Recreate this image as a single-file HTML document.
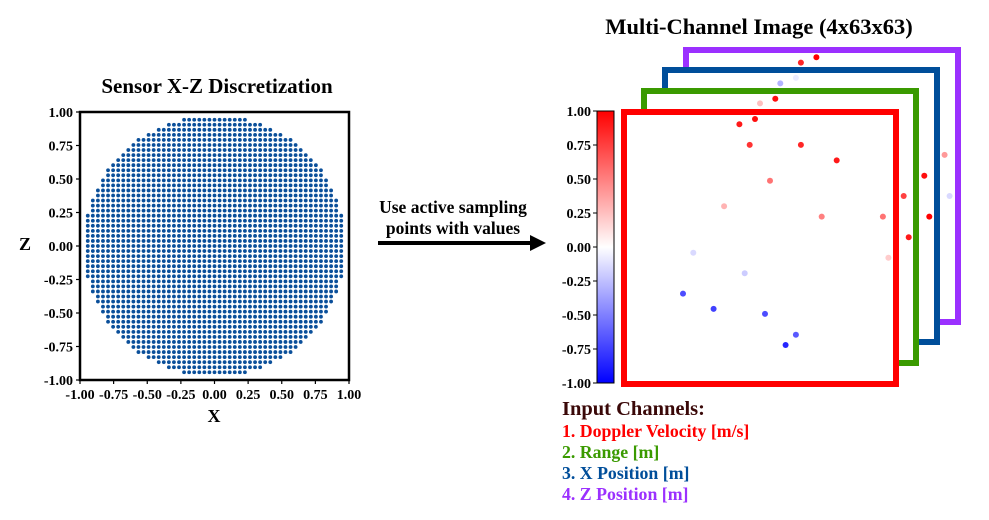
<!DOCTYPE html>
<html><head><meta charset="utf-8"><style>
body{margin:0;background:#fff;}
svg{display:block;font-family:"Liberation Serif",serif;font-weight:bold;}
</style></head><body>
<svg id="s" width="989" height="520" viewBox="0 0 989 520">
<g id="left"></g>
<g id="mid">
<text x="453" y="213" font-size="17.5" text-anchor="middle">Use active sampling</text>
<text x="453" y="234" font-size="17.5" text-anchor="middle">points with values</text>
<line x1="378" y1="243" x2="532" y2="243" stroke="#000" stroke-width="4"/>
<polygon points="530,235 546,243 530,251" fill="#000"/>
</g>
<g id="right"></g>
<g>
<text x="562" y="415" font-size="20.5" fill="#3a0808">Input Channels:</text>
<text x="562" y="437" font-size="17.8" fill="#ff0000">1. Doppler Velocity [m/s]</text>
<text x="562" y="458" font-size="17.8" fill="#3a9a00">2. Range [m]</text>
<text x="562" y="479" font-size="17.8" fill="#004e9a">3. X Position [m]</text>
<text x="562" y="500" font-size="17.8" fill="#9b30ff">4. Z Position [m]</text>
</g>
</svg>
<script>
const NS="http://www.w3.org/2000/svg";
const tickVals=[-1,-0.75,-0.5,-0.25,0,0.25,0.5,0.75,1];
const tickLabels=["-1.00","-0.75","-0.50","-0.25","0.00","0.25","0.50","0.75","1.00"];
const gridHalfCount=[26];
const gridRadius=[0.975];
// sample points: u,v normalized to front frame, and value
const ptU=[0.703,0.647,0.573,0.629,0.500,0.555,0.426,0.482,0.463,0.647,0.776,0.536,0.371,0.722,0.942,1.017,1.091,1.109,1.035,1.164,1.182,0.962,0.260,0.445,0.223,0.333,0.518,0.629,0.592];
const ptV=[-0.186,-0.167,-0.092,-0.112,-0.020,-0.037,0.055,0.036,0.129,0.129,0.185,0.258,0.350,0.387,0.387,0.313,0.240,0.387,0.461,0.165,0.313,0.535,0.517,0.591,0.664,0.719,0.737,0.812,0.849];
const ptVal=[1.0,0.85,-0.3,-0.08,0.25,0.95,0.9,0.95,0.8,0.85,0.9,0.55,0.3,0.5,0.55,0.75,0.95,1.0,0.9,0.4,-0.15,0.2,-0.15,-0.2,-0.7,-0.75,-0.7,-0.65,-0.85];
const cbTicks=[1,0.75,0.5,0.25,0,-0.25,-0.5,-0.75,-1];
const cbLabels=["1.00","0.75","0.50","0.25","0.00","-0.25","-0.50","-0.75","-1.00"];

function mk(tag,attrs,parent,name,inter){const e=document.createElementNS(NS,tag);for(const k in attrs)e.setAttribute(k,attrs[k]);parent.appendChild(e);


return e;}
function txt(x,y,s,size,anchor,parent,name){const t=mk('text',{x:x,y:y,'font-size':size,'text-anchor':anchor},parent,name,false);t.textContent=s;return t;}

// LEFT
const L=document.getElementById('left');
const x0=80,x1=349,y0=112,y1=380;
const sx=v=>x0+(v+1)/2*(x1-x0), sy=v=>y1-(v+1)/2*(y1-y0);
txt(217,93,"Sensor X-Z Discretization",21,"middle",L,"left-title");
const dots=mk('g',{fill:"#0a4f9a"},L,"sensor-points",false);
const n=gridHalfCount[0],step=1/n*0.98;
for(let i=-n;i<=n;i++)for(let j=-n;j<=n;j++){const a=i*step,b=j*step;if(a*a+b*b<=gridRadius[0]*gridRadius[0]){
 mk('circle',{cx:sx(a).toFixed(2),cy:sy(b).toFixed(2),r:1.9},dots,"sensor-point",false);}}
mk('rect',{x:x0,y:y0,width:x1-x0,height:y1-y0,fill:"none",stroke:"#000","stroke-width":2.5},L,"plot-frame",false);
tickVals.forEach((v,k)=>{
 mk('line',{x1:sx(v),y1:y1,x2:sx(v),y2:y1+4,stroke:"#000","stroke-width":1.2},L,"x-tick",false);
 txt(sx(v),y1+19,tickLabels[k],14,"middle",L,"x-tick-label");
 mk('line',{x1:x0-4,y1:sy(v),x2:x0,y2:sy(v),stroke:"#000","stroke-width":1.2},L,"y-tick",false);
 txt(x0-7,sy(v)+5,tickLabels[k],14,"end",L,"y-tick-label");
});
txt(214,422,"X",18,"middle",L,"x-axis-title");
txt(25,250,"Z",18,"middle",L,"y-axis-title");

// RIGHT
const R=document.getElementById('right');
txt(759,34,"Multi-Channel Image (4x63x63)",22.5,"middle",R,"right-title");
const frames=[["#9b30ff",683,47,"frame-z-position"],["#004e9a",662,67,"frame-x-position"],["#3a9a00",641,88,"frame-range"],["#ff0000",621,109,"frame-doppler"]];
const FS=278,BW=6;
frames.forEach(f=>mk('rect',{x:f[1]+BW/2,y:f[2]+BW/2,width:FS-BW,height:FS-BW,fill:"#fff",stroke:f[0],"stroke-width":BW},R,f[3],false));
const pu=u=>621+u*FS, pv=v=>109+v*FS;
function bwr(v){let r,g,b;if(v<0){r=g=Math.round((1+v)*255);b=255;}else{r=255;g=b=Math.round((1-v)*255);}return `rgb(${r},${g},${b})`;}
const pts=mk('g',{},R,"sample-points",false);
ptU.forEach((u,i)=>mk('circle',{cx:pu(u).toFixed(1),cy:pv(ptV[i]).toFixed(1),r:3,fill:bwr(ptVal[i])},pts,"sample-point",false));
// colorbar
const defs=mk('defs',{},R,"defs",false);
const lg=mk('linearGradient',{id:"cbg",x1:0,y1:0,x2:0,y2:1},defs,"colorbar-gradient",false);
[[0,"#ff0000"],[0.5,"#ffffff"],[1,"#0000ff"]].forEach(s=>mk('stop',{offset:s[0],'stop-color':s[1]},lg,"gradient-stop",false));
const cx0=597,cx1=614,cy0=111,cy1=383;
mk('rect',{x:cx0,y:cy0,width:cx1-cx0,height:cy1-cy0,fill:"url(#cbg)",stroke:"#000","stroke-width":1},R,"colorbar",false);
const cy=v=>cy0+(1-v)/2*(cy1-cy0);
cbTicks.forEach((v,k)=>{
 mk('line',{x1:cx0-4,y1:cy(v),x2:cx0,y2:cy(v),stroke:"#000","stroke-width":1},R,"colorbar-tick",false);
 txt(cx0-6,cy(v)+5,cbLabels[k],14,"end",R,"colorbar-tick-label");
});
</script>
</body></html>
